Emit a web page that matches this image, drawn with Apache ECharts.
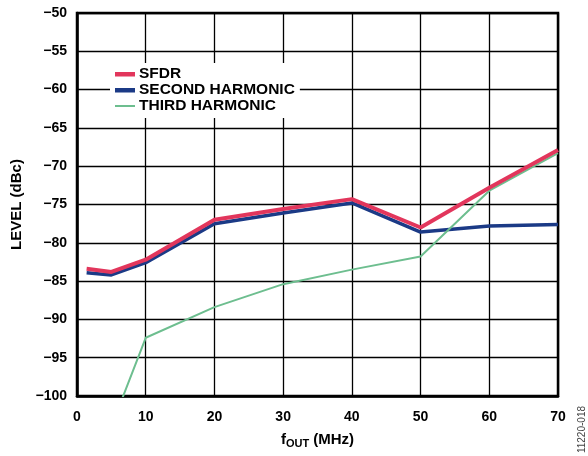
<!DOCTYPE html>
<html><head><meta charset="utf-8">
<script src="https://cdn.jsdelivr.net/npm/echarts@6/dist/echarts.min.js"></script>
<style>html,body{margin:0;padding:0;background:#fff}#c{width:588px;height:456px}</style>
</head><body><div id="c"></div>
<script>
var fout = [1.4, 5, 10, 20, 30, 40, 50, 60, 70];
var sfdr = [-83.4, -83.8, -82.2, -77.0, -75.6, -74.3, -78.0, -72.8, -67.9];
var second = [-83.9, -84.2, -82.6, -77.5, -76.1, -74.8, -78.6, -77.8, -77.6];
var third = [null, -104, -92.4, -88.4, -85.4, -83.5, -81.8, -73.2, -68.3];
var seriesNames = ['SFDR', 'SECOND HARMONIC', 'THIRD HARMONIC'];
var xTicks = [0, 10, 20, 30, 40, 50, 60, 70];

function pairs(xs, ys) { return xs.map(function (x, i) { return [x, ys[i]]; }); }
var FONT = 'Liberation Sans, Arial, sans-serif';
var thick = 'path://M0,0H20V0.01H0Z M0,4H20V8.5H0Z M0,11.99H20V12H0Z';
var thin = 'path://M0,0H20V0.01H0Z M0,5H20V7H0Z M0,11.99H20V12H0Z';
var chart = echarts.init(document.getElementById('c'));
chart.setOption({
  animation: false,
  grid: { left: 77, right: 30, top: 13, bottom: 60, show: true, borderColor: '#000', borderWidth: 2.5, backgroundColor: 'transparent' },
  legend: {
    orient: 'vertical', left: 110, top: 63, padding: [3, 5, 4, 5], backgroundColor: '#fff',
    itemGap: 0, itemWidth: 20, itemHeight: 12,
    data: [
      { name: seriesNames[0], icon: thick },
      { name: seriesNames[1], icon: thick },
      { name: seriesNames[2], icon: thin }
    ],
    textStyle: { fontFamily: FONT, fontWeight: 'bold', fontSize: 15.5, color: '#000', lineHeight: 16, padding: [0, 0, 0, -1] }
  },
  xAxis: {
    type: 'value', min: 0, max: 70, interval: 10,
    name: '{f|f}{s|OUT}{n| (MHz)}', nameLocation: 'middle', nameGap: 34,
    nameTextStyle: { rich: {
      f: { fontFamily: FONT, fontWeight: 'bold', fontSize: 15, color: '#000' },
      s: { fontFamily: FONT, fontWeight: 'bold', fontSize: 11, color: '#000', padding: [8, 0, 0, 0] },
      n: { fontFamily: FONT, fontWeight: 'bold', fontSize: 15, color: '#000' }
    } },
    axisLine: { lineStyle: { color: '#000', width: 2.5 } },
    axisTick: { show: false },
    axisLabel: { margin: 14, fontFamily: FONT, fontWeight: 'bold', fontSize: 14, color: '#000',
      formatter: function (v) { return xTicks.indexOf(v) >= 0 ? String(v) : ''; } },
    splitLine: { show: true, lineStyle: { color: '#000', width: 1.3 } }
  },
  yAxis: {
    type: 'value', min: -100, max: -50, interval: 5,
    name: 'LEVEL (dBc)', nameLocation: 'middle', nameGap: 50,
    nameTextStyle: { fontFamily: FONT, fontWeight: 'bold', fontSize: 15, color: '#000' },
    axisLine: { lineStyle: { color: '#000', width: 2.5 } },
    axisTick: { show: false },
    axisLabel: { margin: 10, fontFamily: FONT, fontWeight: 'bold', fontSize: 14, color: '#000',
      formatter: function (v) { return String(v).replace('-', '\u2212'); } },
    splitLine: { show: true, lineStyle: { color: '#000', width: 1.3 } }
  },
  graphic: [{
    type: 'text', left: 577, top: 406, rotation: Math.PI / 2,
    style: { text: '11220-018', fontFamily: FONT, fontSize: 10, fill: '#444' }
  }],
  series: [
    { name: seriesNames[0], type: 'line', data: pairs(fout, sfdr), symbol: 'none', z: 5,
      lineStyle: { color: '#E2365C', width: 4 }, itemStyle: { color: '#E2365C' } },
    { name: seriesNames[1], type: 'line', data: pairs(fout, second), symbol: 'none', z: 3,
      lineStyle: { color: '#1B3A86', width: 3.5 }, itemStyle: { color: '#1B3A86' } },
    { name: seriesNames[2], type: 'line', data: pairs(fout, third), symbol: 'none', z: 4,
      lineStyle: { color: '#6DBE8F', width: 2 }, itemStyle: { color: '#6DBE8F' } }
  ]
});
</script></body></html>
